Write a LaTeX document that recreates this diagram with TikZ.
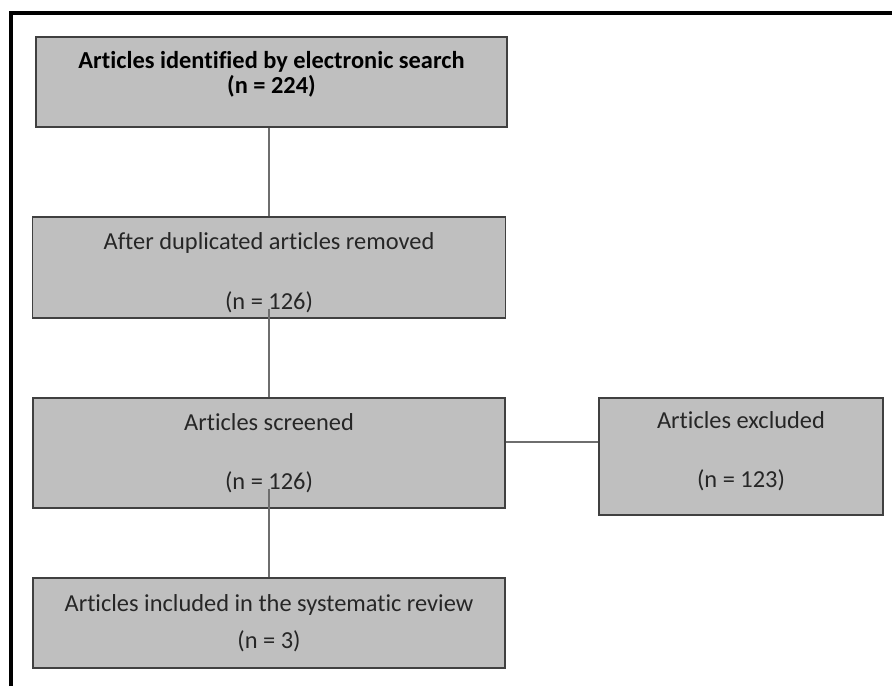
\documentclass[tikz,border=0pt]{standalone}
\usepackage{fontspec}
\setmainfont{Carlito}[RawFeature=-liga]
\definecolor{boxfill}{RGB}{191,191,191}
\definecolor{boxline}{RGB}{64,64,64}
\definecolor{linkgray}{RGB}{110,110,110}
\definecolor{textdark}{RGB}{38,38,38}
\tikzset{
  box/.style={draw=boxline, fill=boxfill, line width=0.9pt, align=center, text=textdark,
    inner sep=0pt, font=\fontsize{12.2}{13}\selectfont},
  link/.style={draw=linkgray, line width=0.8pt}
}

\begin{document}
\begin{tikzpicture}[x=0.5pt, y=-0.5pt]
      \useasboundingbox (0, 0) rectangle (892, 686);
      \draw[line width=1.6pt] (11, 686) -- (11, 13) -- (892, 13);
      \node[box, text=black, font=\fontsize{12.2}{12.5}\selectfont\bfseries,
        minimum width=235.5pt, minimum height=45pt] (id) at (271.5, 82)
        {Articles identified by electronic search\\(n = 224)\\[-3pt]\mbox{}};
      \node[box, minimum width=236.5pt, minimum height=50.5pt] (dup) at (269, 267.5)
        {\mbox{}\\[1pt]After duplicated articles removed\\[17pt](n = 126)};
      \node[box, minimum width=236pt, minimum height=55pt] (scr) at (269, 453)
        {Articles screened\\[16.5pt](n = 126)};
      \node[box, minimum width=236pt, minimum height=45pt] (inc) at (269, 623)
        {Articles included in the systematic review\\[5.5pt](n = 3)};
      \node[box, minimum width=142pt, minimum height=58.5pt] (exc) at (741, 456.5)
        {Articles excluded\\[16.5pt](n = 123)\\[-6pt]\mbox{}};
      \draw[link] (id.south -| dup.north) -- (dup.north);
      \draw[link] ([yshift=5pt]dup.south) -- (scr.north);
      \draw[link] ([yshift=10pt]scr.south) -- (inc.north);
      \draw[link] ([yshift=5.5pt]scr.east) -- ([yshift=5.5pt]scr.east -| exc.west);
    \end{tikzpicture}
\end{document}
